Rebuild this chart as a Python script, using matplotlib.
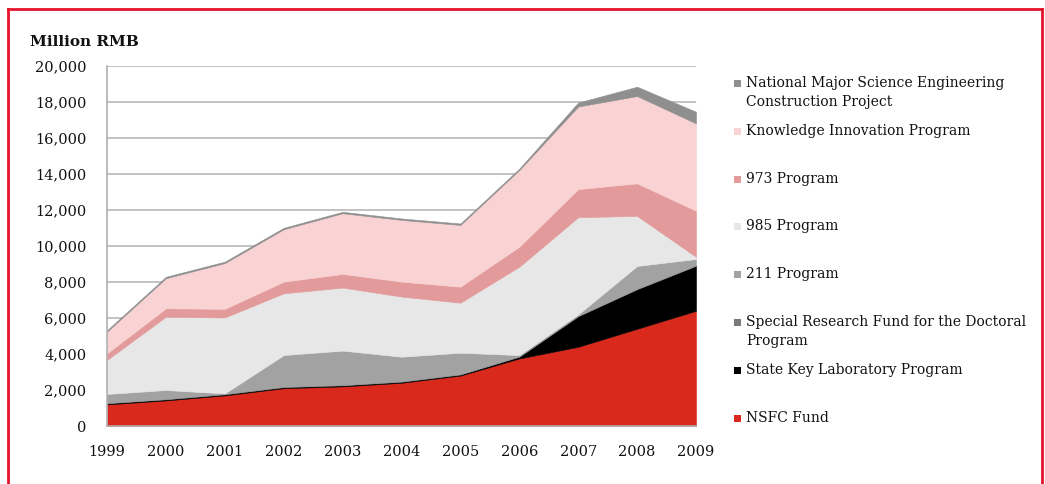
import numpy as np
import matplotlib
matplotlib.use("Agg")
import matplotlib.pyplot as plt
from matplotlib.patches import Rectangle
from matplotlib.lines import Line2D

# -------------------------------
# Datos (millones de RMB)
# -------------------------------
years = [1999, 2000, 2001, 2002, 2003, 2004, 2005, 2006, 2007, 2008, 2009]

nsfc = [1200, 1420, 1700, 2100, 2200, 2400, 2800, 3750, 4400, 5400, 6400]
state_key = [60, 60, 60, 60, 60, 60, 60, 100, 1700, 2200, 2500]
special_doctoral = [30, 30, 30, 30, 30, 30, 30, 30, 30, 30, 30]
p211 = [490, 490, 20, 1750, 1900, 1360, 1180, 60, 70, 1260, 350]
p985 = [1890, 4070, 4220, 3430, 3500, 3340, 2780, 4910, 5400, 2780, 120]
p973 = [370, 470, 480, 650, 760, 830, 890, 1110, 1560, 1810, 2560]
knowledge = [1200, 1670, 2540, 2910, 3370, 3430, 3430, 4260, 4590, 4850, 4850]
national_major = [80, 80, 80, 80, 80, 80, 80, 80, 220, 520, 650]

# de abajo hacia arriba
series = [nsfc, state_key, special_doctoral, p211, p985, p973, knowledge, national_major]
labels = ["NSFC Fund", "State Key Laboratory Program",
          "Special Research Fund for the Doctoral\nProgram", "211 Program",
          "985 Program", "973 Program", "Knowledge Innovation Program",
          "National Major Science Engineering\nConstruction Project"]
colors = ["#d9291c", "#000000", "#7b7b7b", "#a2a2a2",
          "#e7e7e7", "#e39a9a", "#f9d3d3", "#8f8f8f"]

yticks = np.arange(0, 20001, 2000)

FONT = "DejaVu Serif"
plt.rcParams['font.family'] = FONT

fig = plt.figure(figsize=(10.45, 4.84), dpi=100)
ax = fig.add_axes([107/1045, 58/484, (696-107)/1045, (426-66)/484])

polys = ax.stackplot(years, *series, colors=colors, zorder=2)
for p, c in zip(polys, colors):
    p.set_edgecolor(c)
    p.set_linewidth(0.4)

ax.set_xlim(years[0], years[-1])
ax.set_ylim(0, 20000)
ax.set_xticks(years)
ax.set_yticks(yticks)
ax.set_yticklabels([f"{v:,}" for v in yticks])
ax.tick_params(axis='both', length=0, labelsize=10.5, colors="#111111")
ax.tick_params(axis='y', pad=15)
ax.tick_params(axis='x', pad=14)

ax.grid(axis='y', color="#b8b8b8", linewidth=1.2, zorder=0)
ax.set_axisbelow(True)
for s in ["top", "right"]:
    ax.spines[s].set_visible(False)
for s in ["left", "bottom"]:
    ax.spines[s].set_color("#b0b0b0")
    ax.spines[s].set_linewidth(1.2)

fig.text(30/1045, 1 - 42/484, "Million RMB", fontsize=11, fontweight="bold",
         va="center", ha="left", color="#111111")

# leyenda manual (de arriba hacia abajo)
for i, (lab, col) in enumerate(zip(labels[::-1], colors[::-1])):
    y = 84 + i * 47.8
    fig.patches.append(Rectangle((734/1045, 1 - (y + 3)/484), 7/1045, 7/484,
                                 transform=fig.transFigure, facecolor=col,
                                 edgecolor="none"))
    fig.text(746/1045, 1 - (y - 8)/484, lab, fontsize=10, va="top", ha="left",
             color="#111111", linespacing=1.45)

# marco rojo (sin borde inferior)
xl, xr, yt = 8/1045, 1042/1045, 1 - 9/484
for xs, ys in [([xl, xl], [0, yt]), ([xl, xr], [yt, yt]), ([xr, xr], [yt, 0])]:
    fig.lines.append(Line2D(xs, ys, transform=fig.transFigure,
                            color="#e3142b", linewidth=2.0))

fig.savefig("out.png", dpi=100)
